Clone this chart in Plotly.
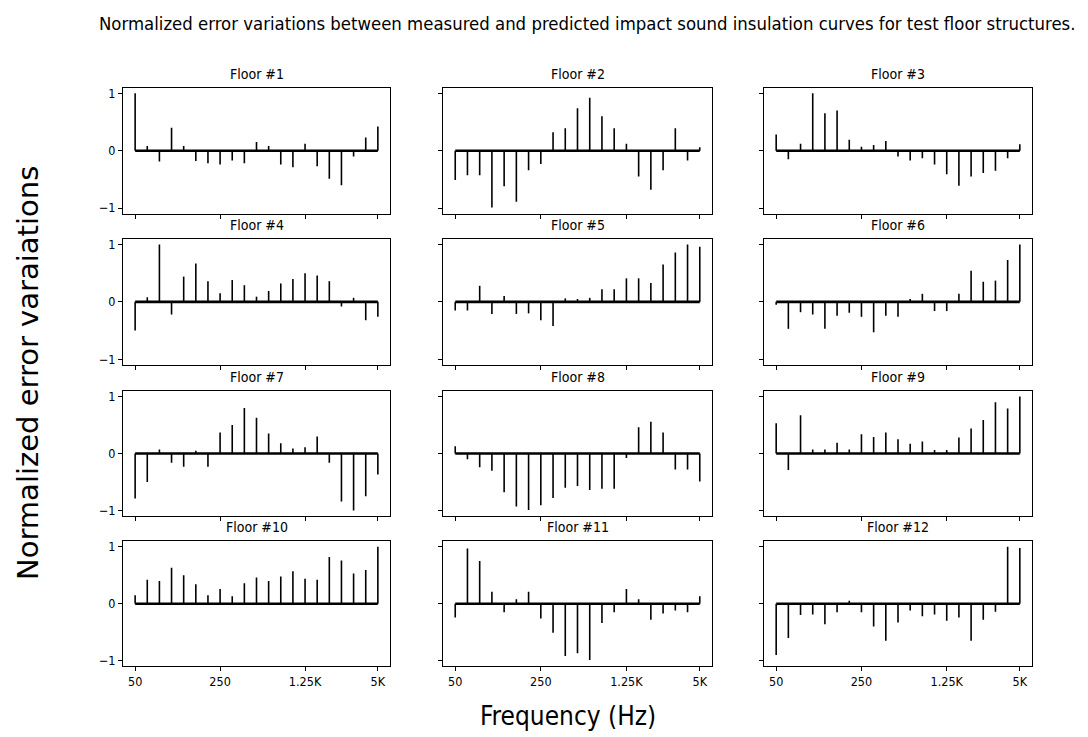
import plotly.graph_objects as go

bands = ["50", "63", "80", "100", "125", "160", "200", "250", "315", "400", "500",
         "630", "800", "1K", "1.25K", "1.6K", "2K", "2.5K", "3.15K", "4K", "5K"]
tick_labels = ["50", "250", "1.25K", "5K"]
tick_idx = [0, 7, 14, 20]

floor_1 = [1.0, 0.08, -0.19, 0.40, 0.08, -0.18, -0.22, -0.24, -0.17, -0.22, 0.15,
           0.08, -0.24, -0.29, 0.12, -0.27, -0.49, -0.60, -0.10, 0.23, 0.42]
floor_2 = [-0.51, -0.43, -0.43, -0.99, -0.62, -0.89, -0.34, -0.23, 0.32, 0.39, 0.74,
           0.92, 0.60, 0.39, 0.12, -0.45, -0.68, -0.34, 0.39, -0.17, 0.06]
floor_3 = [0.28, -0.15, 0.12, 1.0, 0.65, 0.70, 0.19, 0.07, 0.10, 0.17, -0.10,
           -0.17, -0.13, -0.24, -0.41, -0.61, -0.45, -0.39, -0.35, -0.13, 0.11]
floor_4 = [-0.50, 0.08, 1.0, -0.22, 0.44, 0.67, 0.36, 0.15, 0.38, 0.29, 0.09,
           0.19, 0.32, 0.40, 0.50, 0.46, 0.36, -0.08, 0.07, -0.32, -0.26]
floor_5 = [-0.15, -0.15, 0.28, -0.21, 0.10, -0.21, -0.20, -0.32, -0.42, 0.06, 0.05,
           0.07, 0.22, 0.22, 0.41, 0.41, 0.33, 0.65, 0.86, 1.0, 0.96]
floor_6 = [-0.05, -0.47, -0.18, -0.22, -0.47, -0.24, -0.19, -0.26, -0.53, -0.24, -0.26,
           0.05, 0.14, -0.16, -0.16, 0.14, 0.54, 0.35, 0.37, 0.73, 1.0]
floor_7 = [-0.79, -0.50, 0.07, -0.16, -0.23, 0.05, -0.23, 0.37, 0.50, 0.80, 0.63,
           0.35, 0.18, 0.09, 0.11, 0.30, -0.16, -0.84, -1.0, -0.75, -0.37]
floor_8 = [0.13, -0.10, -0.24, -0.30, -0.68, -0.93, -0.99, -0.91, -0.78, -0.60, -0.57,
           -0.64, -0.62, -0.62, -0.08, 0.46, 0.56, 0.37, -0.28, -0.28, -0.49]
floor_9 = [0.53, -0.29, 0.67, 0.07, 0.07, 0.19, 0.07, 0.34, 0.29, 0.37, 0.25,
           0.17, 0.21, 0.06, 0.06, 0.28, 0.44, 0.59, 0.90, 0.79, 1.0]
floor_10 = [0.15, 0.42, 0.40, 0.63, 0.50, 0.34, 0.15, 0.26, 0.13, 0.36, 0.46,
            0.40, 0.48, 0.57, 0.44, 0.42, 0.82, 0.76, 0.53, 0.59, 1.0]
floor_11 = [-0.24, 0.97, 0.75, 0.21, -0.15, 0.08, 0.21, -0.26, -0.51, -0.92, -0.87,
            -0.99, -0.34, -0.15, 0.26, 0.08, -0.28, -0.17, -0.12, -0.15, 0.13]
floor_12 = [-0.90, -0.60, -0.20, -0.19, -0.36, -0.15, 0.05, -0.15, -0.40, -0.65, -0.33,
            -0.12, -0.22, -0.19, -0.30, -0.24, -0.65, -0.28, -0.14, 1.0, 0.98]

floors = [floor_1, floor_2, floor_3, floor_4, floor_5, floor_6,
          floor_7, floor_8, floor_9, floor_10, floor_11, floor_12]
titles = ["Floor #%d" % (i + 1) for i in range(12)]

W, H = 1088, 737
col_px = [(123, 390), (443, 712), (764, 1032)]
row_px = [(86, 213), (238, 365), (391, 517), (542, 668)]

COND = "DejaVu Sans Condensed, Liberation Sans Narrow, DejaVu Sans, sans-serif"

fig = go.Figure()
layout = {}
annotations = []
for k, vals in enumerate(floors):
    r, c = divmod(k, 3)
    n = k + 1
    xa = "x" if n == 1 else "x%d" % n
    ya = "y" if n == 1 else "y%d" % n
    idx = list(range(len(bands)))
    sx, sy = [], []
    for i, v in zip(idx, vals):
        sx += [i, i, None]
        sy += [0, v, None]
    fig.add_trace(go.Scatter(x=sx, y=sy, mode="lines", xaxis=xa, yaxis=ya,
                             line=dict(color="black", width=1.6),
                             hoverinfo="skip", showlegend=False))
    fig.add_trace(go.Scatter(x=[idx[0], idx[-1]], y=[0, 0], mode="lines",
                             xaxis=xa, yaxis=ya,
                             line=dict(color="black", width=2.6),
                             hoverinfo="skip", showlegend=False))
    x0, x1 = col_px[c]
    yt, yb = row_px[r]
    dx = [x0 / W, x1 / W]
    dy = [1 - yb / H, 1 - yt / H]
    xkey = "xaxis" if n == 1 else "xaxis%d" % n
    ykey = "yaxis" if n == 1 else "yaxis%d" % n
    layout[xkey] = dict(domain=dx, anchor=ya, range=[-1, 21],
                        tickmode="array", tickvals=tick_idx,
                        ticktext=tick_labels if r == 3 else [""] * 4,
                        ticks="outside", ticklen=4, tickwidth=1, tickcolor="black",
                        showgrid=False, zeroline=False, showline=True,
                        linecolor="black", linewidth=1, mirror=True,
                        tickfont=dict(family=COND, size=12.5, color="black"))
    layout[ykey] = dict(domain=dy, anchor=xa, range=[-1.1, 1.1],
                        tickmode="array", tickvals=[-1, 0, 1],
                        ticktext=["\u22121", "0", "1"] if c == 0 else [""] * 3,
                        ticks="outside", ticklen=4, tickwidth=1, tickcolor="black",
                        showgrid=False, zeroline=False, showline=True,
                        linecolor="black", linewidth=1, mirror=True,
                        tickfont=dict(family=COND, size=12.5, color="black"))
    annotations.append(dict(text=titles[k], x=(dx[0] + dx[1]) / 2, y=dy[1],
                            xref="paper", yref="paper", xanchor="center",
                            yanchor="bottom", yshift=4, showarrow=False,
                            font=dict(family=COND, size=14, color="black")))

annotations.append(dict(text="Normalized error variations between measured and predicted impact sound insulation curves for test floor structures.",
                        x=587 / W, y=1 - 22 / H, xref="paper", yref="paper",
                        xanchor="center", yanchor="middle", showarrow=False,
                        font=dict(family=COND, size=18.4, color="black")))
annotations.append(dict(text="Frequency (Hz)", x=568 / W, y=1 - 718 / H,
                        xref="paper", yref="paper", xanchor="center",
                        yanchor="middle", showarrow=False,
                        font=dict(family=COND, size=26, color="black")))
annotations.append(dict(text="Normalized error varaiations", x=28 / W, y=1 - 373 / H,
                        xref="paper", yref="paper", xanchor="center",
                        yanchor="middle", showarrow=False, textangle=-90,
                        font=dict(family="DejaVu Sans, sans-serif", size=29, color="black")))

fig.update_layout(width=W, height=H, margin=dict(l=0, r=0, t=0, b=0),
                  plot_bgcolor="white", paper_bgcolor="white",
                  annotations=annotations, showlegend=False, **layout)
fig.write_html("out.html")
